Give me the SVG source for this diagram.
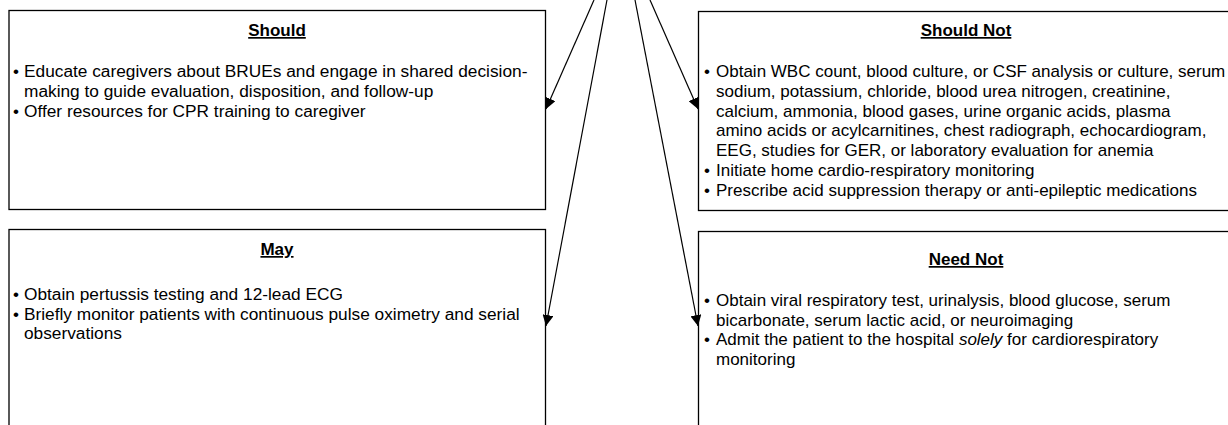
<svg xmlns="http://www.w3.org/2000/svg" width="1228" height="425" viewBox="0 0 1228 425">
<style>
.box{fill:#fff;stroke:#000;stroke-width:1.3}
text{font-family:"Liberation Sans",Arial,sans-serif;font-size:17px;fill:#000}
.l{font-size:17.3px}
.t{font-weight:bold;text-decoration:underline;text-anchor:middle;font-size:17px}
.c{stroke:#000;stroke-width:1.2;fill:none}
</style>
<defs>
<marker id="ah" markerWidth="11" markerHeight="11" refX="11" refY="5.5" orient="auto" markerUnits="userSpaceOnUse">
<path d="M0,0 L11,5.5 L0,11 Z" fill="#000"/>
</marker>
</defs>
<rect width="1228" height="425" fill="#fff"/>
<g id="should">
<rect class="box" x="9" y="10.5" width="536.5" height="199"/>
<text class="t" x="277" y="36">Should</text>
<text x="13" y="77">•</text><text class="l" x="24" y="77">Educate caregivers about BRUEs and engage in shared decision-</text>
<text class="l" x="24" y="96.8">making to guide evaluation, disposition, and follow-up</text>
<text x="13" y="116.6">•</text><text class="l" x="24" y="116.6">Offer resources for CPR training to caregiver</text>
</g>
<g id="should-not">
<rect class="box" x="698.5" y="11.5" width="536" height="199"/>
<text class="t" x="966" y="36">Should Not</text>
<text x="704" y="77">•</text><text x="716" y="77">Obtain WBC count, blood culture, or CSF analysis or culture, serum</text>
<text x="716" y="96.8">sodium, potassium, chloride, blood urea nitrogen, creatinine,</text>
<text x="716" y="116.6">calcium, ammonia, blood gases, urine organic acids, plasma</text>
<text x="716" y="136.4">amino acids or acylcarnitines, chest radiograph, echocardiogram,</text>
<text x="716" y="156.2">EEG, studies for GER, or laboratory evaluation for anemia</text>
<text x="704" y="176">•</text><text x="716" y="176">Initiate home cardio-respiratory monitoring</text>
<text x="704" y="195.8">•</text><text x="716" y="195.8">Prescribe acid suppression therapy or anti-epileptic medications</text>
</g>
<g id="may">
<rect class="box" x="9" y="229.5" width="536.5" height="205"/>
<text class="t" x="277" y="255">May</text>
<text x="13" y="300">•</text><text class="l" x="24" y="300">Obtain pertussis testing and 12-lead ECG</text>
<text x="13" y="319.5">•</text><text class="l" x="24" y="319.5">Briefly monitor patients with continuous pulse oximetry and serial</text>
<text class="l" x="24" y="339">observations</text>
</g>
<g id="need-not">
<rect class="box" x="698.5" y="231.5" width="536" height="205"/>
<text class="t" x="966" y="265">Need Not</text>
<text x="704" y="306">•</text><text x="716" y="306">Obtain viral respiratory test, urinalysis, blood glucose, serum</text>
<text x="716" y="325.5">bicarbonate, serum lactic acid, or neuroimaging</text>
<text x="704" y="345">•</text><text x="716" y="345">Admit the patient to the hospital <tspan font-style="italic">solely</tspan> for cardiorespiratory</text>
<text x="716" y="364.5">monitoring</text>
</g>
<g id="connectors">
<line class="c" x1="594" y1="0" x2="546" y2="109" marker-end="url(#ah)"/>
<line class="c" x1="607" y1="0" x2="546" y2="326" marker-end="url(#ah)"/>
<line class="c" x1="635" y1="0" x2="698" y2="326" marker-end="url(#ah)"/>
<line class="c" x1="650" y1="0" x2="698" y2="109" marker-end="url(#ah)"/>
</g>
</svg>
